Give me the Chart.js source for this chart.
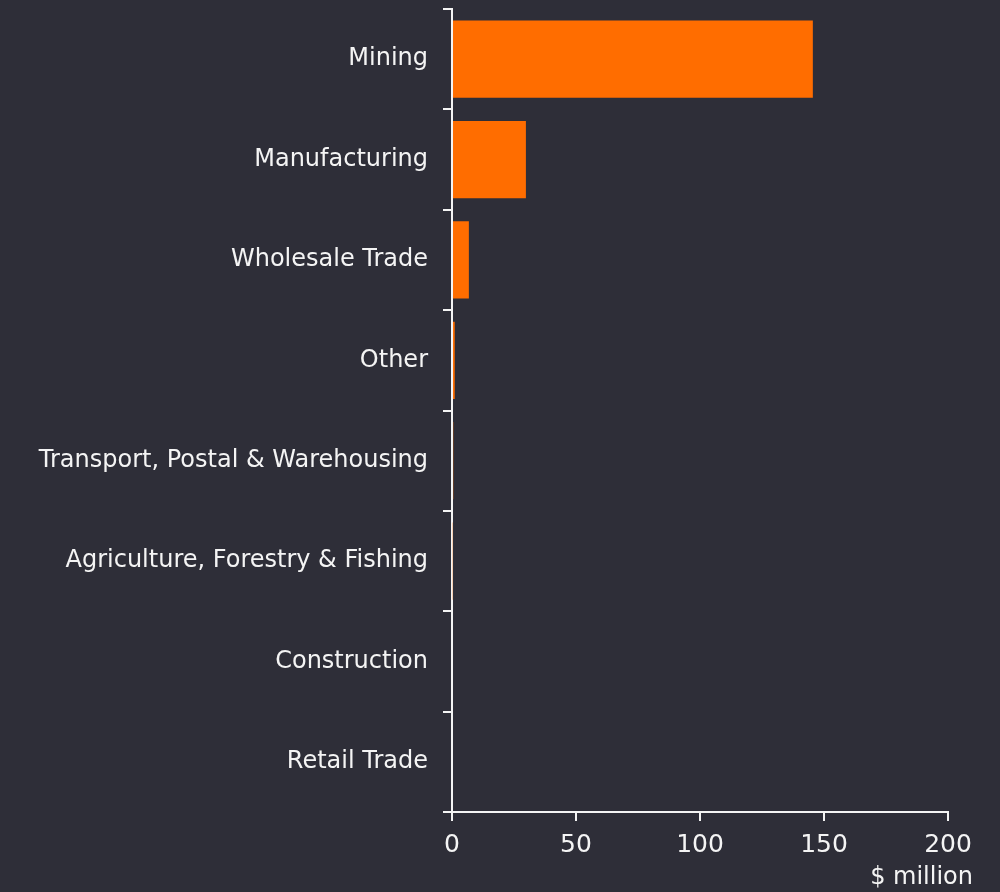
<!DOCTYPE html>
<html lang="en">
<head>
  <meta charset="UTF-8">
  <title>Industry value, $ million</title>
  <script src="https://cdn.jsdelivr.net/npm/chart.js"></script>
  <style>
    html, body { margin: 0; padding: 0; background: #2e2e38; }
    #wrap { position: relative; width: 1000px; height: 892px; }
  </style>
</head>
<body>
  <div id="wrap"><canvas id="chart"></canvas></div>
  <script>
    const categories = ['Mining', 'Manufacturing', 'Wholesale Trade', 'Other',
      'Transport, Postal & Warehousing', 'Agriculture, Forestry & Fishing',
      'Construction', 'Retail Trade'];
    const values = [145.5, 29.8, 6.8, 1.1, 0.5, 0.3, 0, 0];
    const xTicks = [0, 50, 100, 150, 200];
    const axisTitle = '$ million';

    const FONT = "'DejaVu Sans', sans-serif";
    const WHITE = '#f4f4f4';

    // axis title sits right-aligned past the end of the axis
    const titlePlugin = {
      id: 'unitTitle',
      afterDraw(chart) {
        const c = chart.ctx, a = chart.chartArea;
        c.save();
        c.font = '24px ' + FONT;
        c.fillStyle = WHITE;
        c.textAlign = 'right';
        c.textBaseline = 'middle';
        c.fillText(axisTitle, a.right + 25, 878);
        c.restore();
      }
    };

    new Chart(document.getElementById('chart'), {
      type: 'bar',
      data: {
        labels: categories,
        datasets: [{
          data: values,
          backgroundColor: '#ff6d00',
          barPercentage: 0.77,
          categoryPercentage: 1
        }]
      },
      options: {
        indexAxis: 'y',
        responsive: true,
        maintainAspectRatio: false,
        animation: false,
        layout: { padding: { top: 9, right: 52, bottom: 0, left: 0 } },
        plugins: { legend: { display: false }, tooltip: { enabled: false } },
        scales: {
          x: {
            min: 0, max: 200,
            afterBuildTicks: s => { s.ticks = xTicks.map(v => ({ value: v })); },
            afterFit: s => { s.height = 80; s.paddingLeft = 0; s.paddingRight = 0; },
            border: { color: WHITE, width: 2 },
            grid: { drawOnChartArea: false, color: WHITE, lineWidth: 2, tickLength: 9 },
            ticks: { color: WHITE, font: { family: FONT, size: 25 }, padding: 9, maxRotation: 0 }
          },
          y: {
            afterFit: s => { s.width = 452; s.paddingTop = 0; s.paddingBottom = 0; },
            border: { color: WHITE, width: 2 },
            grid: { drawOnChartArea: false, color: WHITE, lineWidth: 2, tickLength: 9, offset: true },
            ticks: { color: WHITE, font: { family: FONT, size: 24 }, padding: 15 }
          }
        }
      },
      plugins: [titlePlugin]
    });
  </script>
</body>
</html>
